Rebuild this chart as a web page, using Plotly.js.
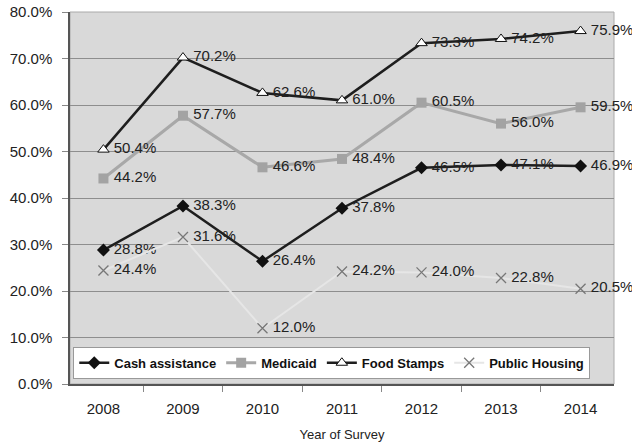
<!DOCTYPE html>
<html><head><meta charset="utf-8">
<script src="https://cdn.plot.ly/plotly-3.0.1.min.js"></script>
<style>html,body{margin:0;padding:0;background:#fff}#c{width:632px;height:444px}</style>
</head><body><div id="c"></div>
<script>
const years = ['2008','2009','2010','2011','2012','2013','2014'];
const cashAssistance = [28.8, 38.3, 26.4, 37.8, 46.5, 47.1, 46.9];
const medicaid = [44.2, 57.7, 46.6, 48.4, 60.5, 56.0, 59.5];
const foodStamps = [50.4, 70.2, 62.6, 61.0, 73.3, 74.2, 75.9];
const publicHousing = [24.4, 31.6, 12.0, 24.2, 24.0, 22.8, 20.5];
const seriesNames = ['Cash assistance', 'Medicaid', 'Food Stamps', 'Public Housing'];

const FF = 'Liberation Sans, Arial, sans-serif';
const lab = a => a.map(v => '\u2009' + v.toFixed(1) + '%');
const tf = {family: FF, size: 15, color: '#222'};

const traces = [
  {x: years, y: cashAssistance, name: seriesNames[0], mode: 'lines+markers+text', text: lab(cashAssistance),
   textposition: 'middle right', textfont: tf, cliponaxis: false,
   line: {color: '#1e1e1e', width: 2.5}, marker: {symbol: 'diamond', size: 10, color: '#111'}},
  {x: years, y: medicaid, name: seriesNames[1], mode: 'lines+markers+text', text: lab(medicaid),
   textposition: 'middle right', textfont: tf, cliponaxis: false,
   line: {color: '#a8a8a8', width: 3}, marker: {symbol: 'square', size: 10, color: '#a3a3a3'}},
  {x: years, y: foodStamps, name: seriesNames[2], mode: 'lines+markers+text', text: lab(foodStamps),
   textposition: 'middle right', textfont: tf, cliponaxis: false,
   line: {color: '#1e1e1e', width: 2.5}, marker: {symbol: 'triangle-up', size: 10, color: '#fff', line: {color: '#111', width: 1}}},
  {x: years, y: publicHousing, name: seriesNames[3], mode: 'lines+markers+text', text: lab(publicHousing),
   textposition: 'middle right', textfont: tf, cliponaxis: false,
   line: {color: '#e6e6e6', width: 2}, marker: {symbol: 'x-thin-open', size: 10, color: '#777', line: {color: '#777', width: 1.3}}}
];

const layout = {
  width: 632, height: 444,
  margin: {l: 70, r: 18, t: 12, b: 60},
  paper_bgcolor: '#fff', plot_bgcolor: '#d9d9d9',
  font: {family: FF, size: 15, color: '#222'},
  showlegend: true,
  legend: {orientation: 'h', x: 0.006, y: 0.1, xanchor: 'left', yanchor: 'top',
    bgcolor: '#fff', bordercolor: '#999', borderwidth: 1,
    font: {family: FF, size: 13, color: '#111', weight: 'bold'},
    itemwidth: 30, tracegroupgap: 0},
  xaxis: {type: 'category', tickson: 'boundaries', ticks: 'outside', ticklen: 6, tickcolor: '#888',
    showline: true, linecolor: '#555', linewidth: 1.5, mirror: false, showgrid: false,
    tickfont: {size: 15, color: '#222'}, ticklabelstandoff: 10,
    title: {text: 'Year of Survey', font: {size: 13, color: '#222'}, standoff: 14}},
  yaxis: {range: [0, 80], dtick: 10, ticksuffix: '%', tickformat: '.1f', ticks: 'outside', ticklen: 6, tickcolor: '#888',
    showline: true, linecolor: '#555', linewidth: 1.5, gridcolor: '#8e8e8e', gridwidth: 1,
    zeroline: false, tickfont: {size: 15, color: '#222'}, ticklabelstandoff: 7},
  shapes: [{type: 'rect', xref: 'paper', yref: 'paper', x0: 0, x1: 1, y0: 0, y1: 1, line: {color: '#aaa', width: 1}, layer: 'below'}]
};

Plotly.newPlot('c', traces, layout, {displayModeBar: false});
</script></body></html>
